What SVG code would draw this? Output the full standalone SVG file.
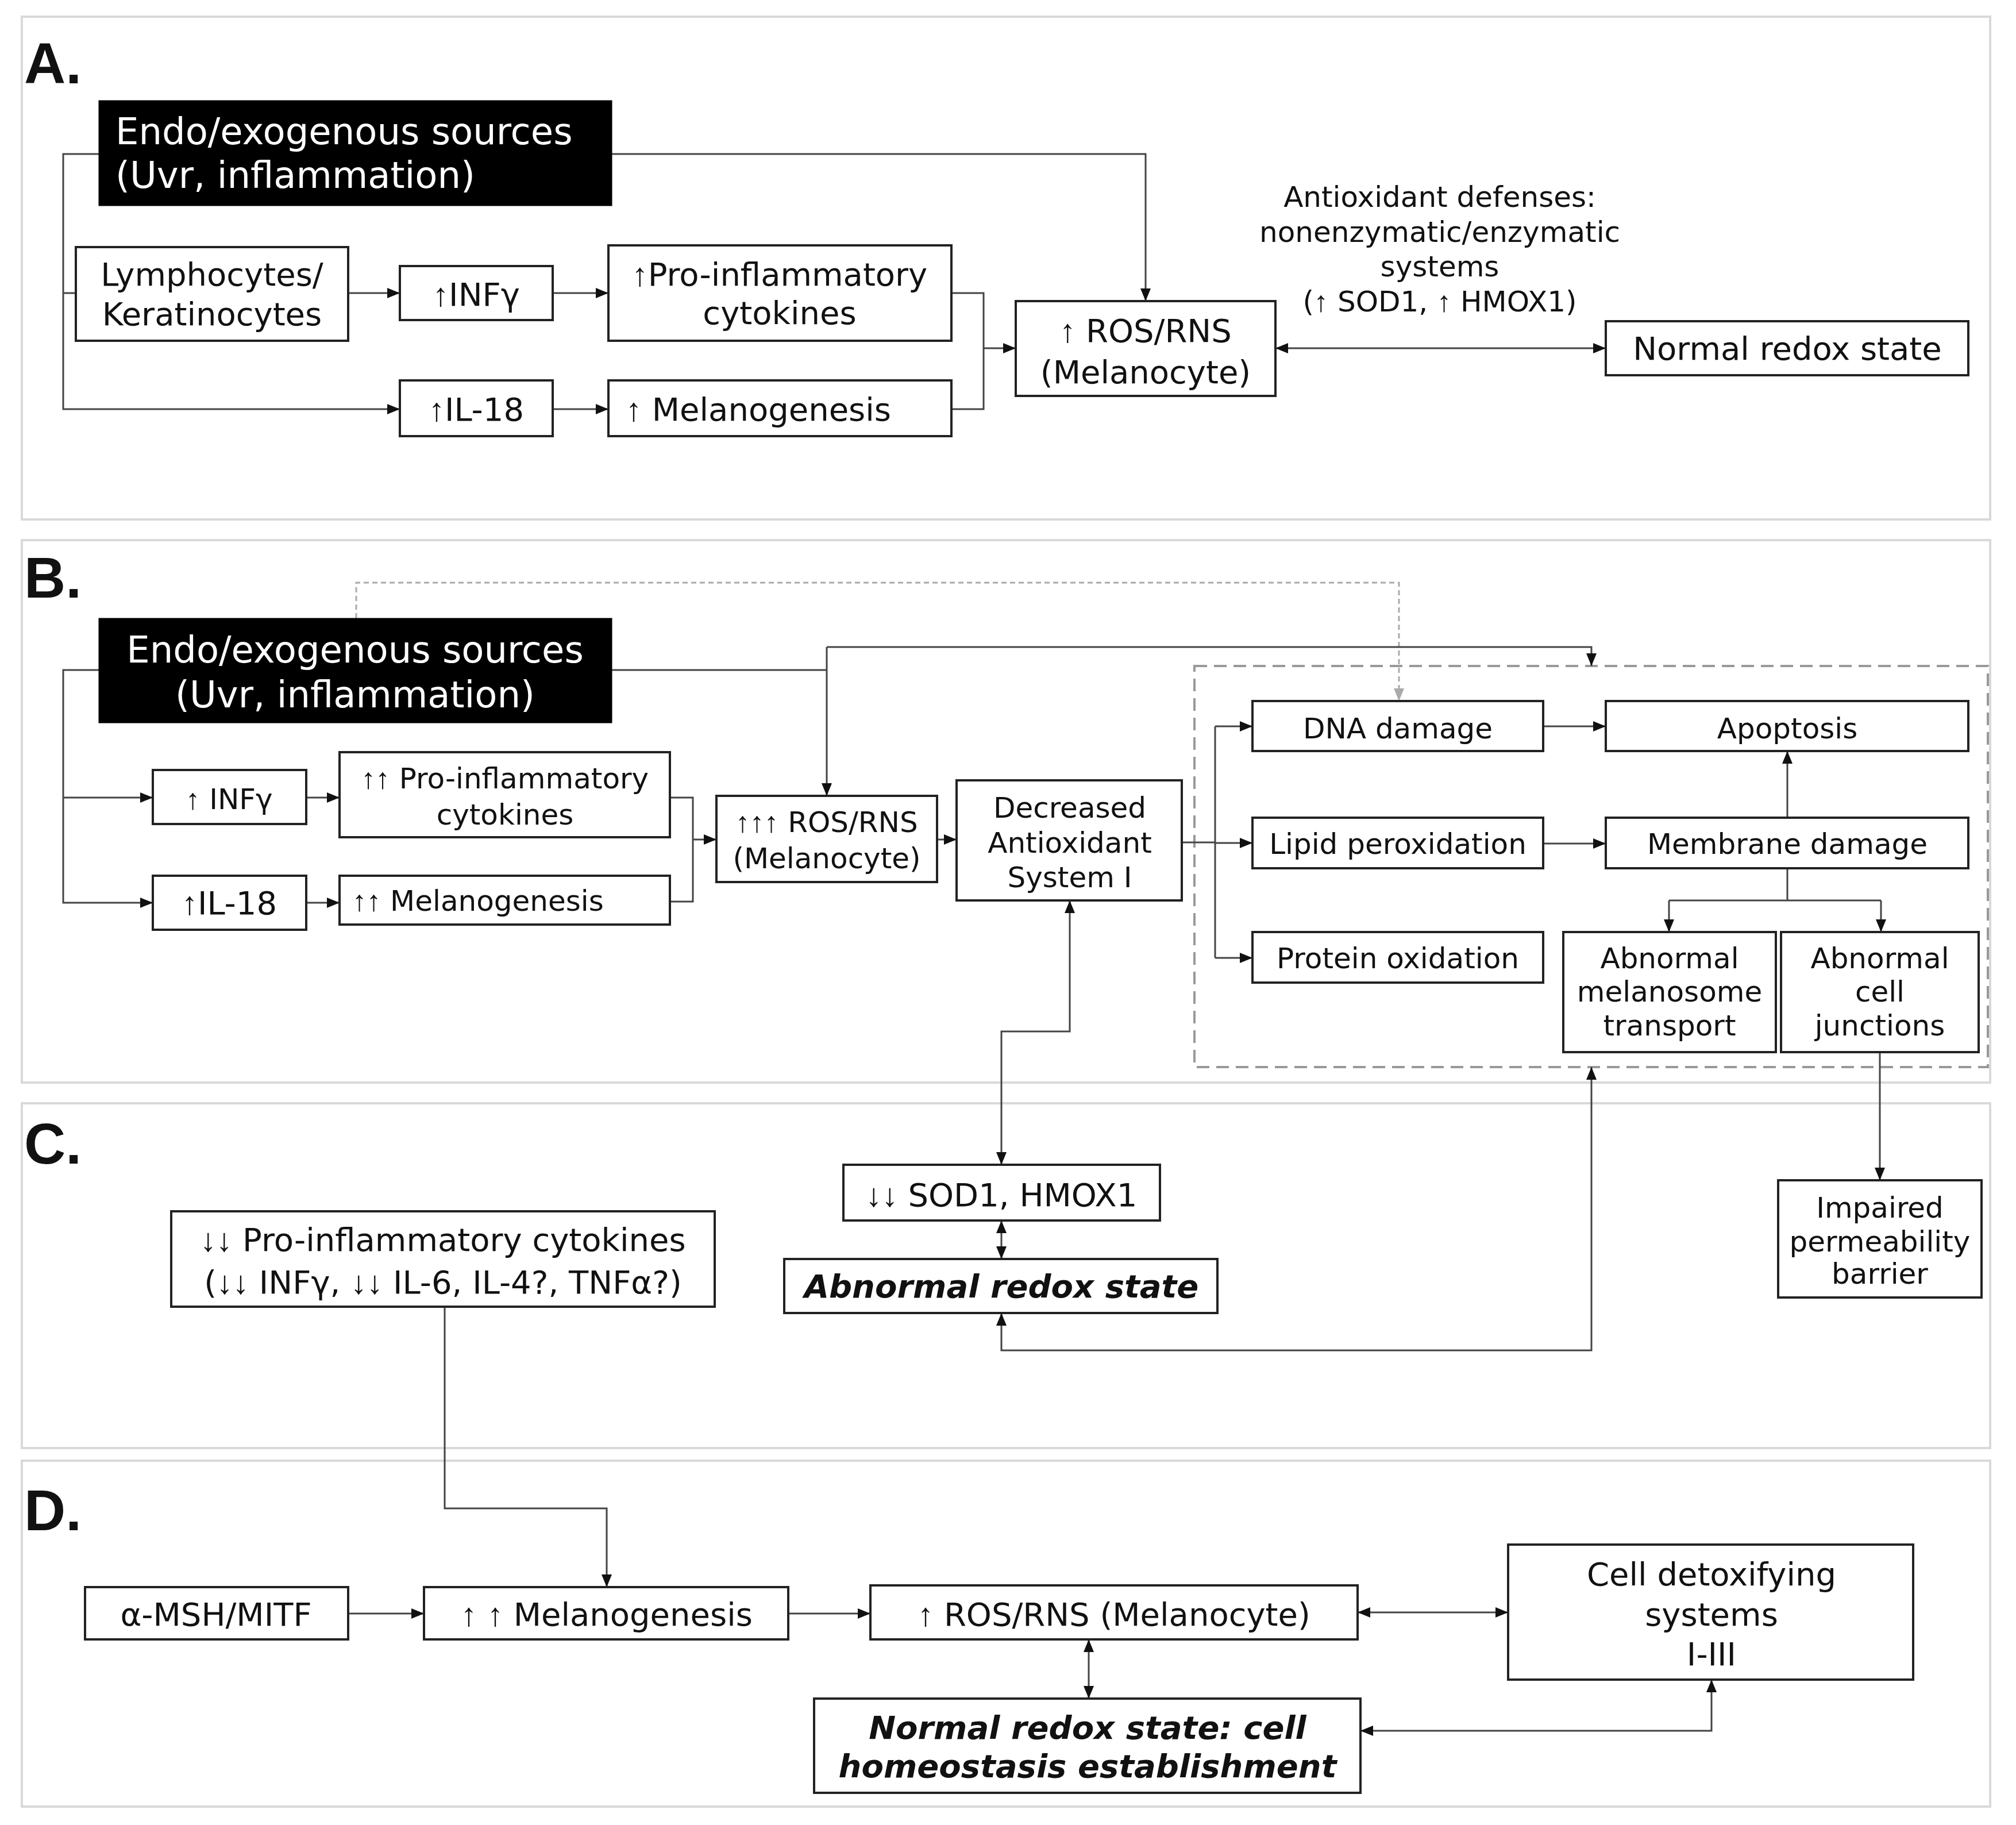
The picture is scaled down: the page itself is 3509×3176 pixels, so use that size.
<svg xmlns="http://www.w3.org/2000/svg" width="3509" height="3176" viewBox="0 0 3509 3176">
<style>
text{font-family:"DejaVu Sans","Noto Sans",sans-serif;fill:#111;text-anchor:middle}
.lbl{font-family:"Liberation Sans",Arial,sans-serif;font-weight:bold;font-size:100px;text-anchor:start}
.panel{fill:none;stroke:#d9d9d9;stroke-width:4}
.box{fill:#fff;stroke:#222;stroke-width:4}
.blk{fill:#000;stroke:#000}
.wt{fill:#fff}
.c{fill:none;stroke:#444;stroke-width:3}
.dash{fill:none;stroke:#aaa;stroke-width:3;stroke-dasharray:9 6}
.dbox{fill:none;stroke:#999;stroke-width:4;stroke-dasharray:22 12}
.f64{font-size:64px}.f56{font-size:56px}.f50{font-size:50px}
.bi{font-weight:bold;font-style:italic}
.a{font-family:"Liberation Sans",Arial,sans-serif}
</style>
<defs>
<marker id="ar" markerUnits="userSpaceOnUse" markerWidth="24" markerHeight="18" refX="22" refY="9" orient="auto-start-reverse"><path d="M0,0 L22,9 L0,18 z" fill="#111"/></marker>
<marker id="arg" markerUnits="userSpaceOnUse" markerWidth="24" markerHeight="18" refX="22" refY="9" orient="auto"><path d="M0,0 L22,9 L0,18 z" fill="#aaa"/></marker>
</defs>
<rect width="3509" height="3176" fill="#fff"/>
<g id="panels">
<rect class="panel" x="38" y="29" width="3426" height="875"/>
<rect class="panel" x="38" y="940" width="3426" height="944"/>
<rect class="panel" x="38" y="1920" width="3426" height="600"/>
<rect class="panel" x="38" y="2542" width="3426" height="602"/>
<text class="lbl" x="42" y="145">A.</text>
<text class="lbl" x="42" y="1040">B.</text>
<text class="lbl" x="42" y="2025">C.</text>
<text class="lbl" x="42" y="2663">D.</text>
<rect class="dbox" x="2079" y="1159" width="1381" height="698"/>
</g>
<g id="connectors">
<path class="c" d="M172,268 H110 V712 H696" marker-end="url(#ar)"/>
<path class="c" d="M110,510 H132"/>
<path class="c" d="M1065,268 H1994 V524" marker-end="url(#ar)"/>
<path class="c" d="M606,510 H696" marker-end="url(#ar)"/>
<path class="c" d="M962,510 H1059" marker-end="url(#ar)"/>
<path class="c" d="M962,712 H1059" marker-end="url(#ar)"/>
<path class="c" d="M1656,510 H1712 V712 H1656"/>
<path class="c" d="M1712,606 H1768" marker-end="url(#ar)"/>
<path class="c" d="M2220,606 H2795" marker-start="url(#ar)" marker-end="url(#ar)"/>
<path class="dash" d="M620,1076 V1014 H2435 V1220" marker-end="url(#arg)"/>
<path class="c" d="M1065,1166 H1439"/>
<path class="c" d="M1439,1126 V1385" marker-end="url(#ar)"/>
<path class="c" d="M1439,1126 H2770 V1159" marker-end="url(#ar)"/>
<path class="c" d="M172,1166 H110 V1571 H266" marker-end="url(#ar)"/>
<path class="c" d="M110,1388 H266" marker-end="url(#ar)"/>
<path class="c" d="M533,1388 H591" marker-end="url(#ar)"/>
<path class="c" d="M533,1571 H591" marker-end="url(#ar)"/>
<path class="c" d="M1166,1388 H1206 V1569 H1166"/>
<path class="c" d="M1206,1461 H1247" marker-end="url(#ar)"/>
<path class="c" d="M1631,1461 H1665" marker-end="url(#ar)"/>
<path class="c" d="M2057,1466 H2115"/>
<path class="c" d="M2115,1264 V1667"/>
<path class="c" d="M2115,1264 H2180" marker-end="url(#ar)"/>
<path class="c" d="M2115,1467 H2180" marker-end="url(#ar)"/>
<path class="c" d="M2115,1667 H2180" marker-end="url(#ar)"/>
<path class="c" d="M2686,1264 H2795" marker-end="url(#ar)"/>
<path class="c" d="M2686,1468 H2795" marker-end="url(#ar)"/>
<path class="c" d="M3111,1423 V1307" marker-end="url(#ar)"/>
<path class="c" d="M3111,1511 V1567"/>
<path class="c" d="M2905,1567 H3274"/>
<path class="c" d="M2905,1567 V1622" marker-end="url(#ar)"/>
<path class="c" d="M3274,1567 V1622" marker-end="url(#ar)"/>
<path class="c" d="M3272,1831 V2054" marker-end="url(#ar)"/>
<path class="c" d="M1862,1567 V1795 H1743 V2027" marker-start="url(#ar)" marker-end="url(#ar)"/>
<path class="c" d="M1743,2124 V2191" marker-start="url(#ar)" marker-end="url(#ar)"/>
<path class="c" d="M1743,2285 V2350 H2770 V1857" marker-start="url(#ar)" marker-end="url(#ar)"/>
<path class="c" d="M774,2274 V2625 H1056 V2762" marker-end="url(#ar)"/>
<path class="c" d="M606,2808 H738" marker-end="url(#ar)"/>
<path class="c" d="M1372,2808 H1515" marker-end="url(#ar)"/>
<path class="c" d="M2363,2806 H2625" marker-start="url(#ar)" marker-end="url(#ar)"/>
<path class="c" d="M1895,2853 V2956" marker-start="url(#ar)" marker-end="url(#ar)"/>
<path class="c" d="M2368,3012 H2979 V2923" marker-start="url(#ar)" marker-end="url(#ar)"/>
</g>
<g id="a-sources"><rect class="blk" x="172" y="175" width="893" height="183"/><text class="f64 wt" x="201" y="251" style="text-anchor:start">Endo/exogenous sources</text><text class="f64 wt" x="201" y="327" style="text-anchor:start">(Uvr, inflammation)</text></g>
<g id="a-lymph"><rect class="box" x="132" y="430" width="474" height="163"/><text class="f56" x="369" y="497">Lymphocytes/</text><text class="f56" x="369" y="566">Keratinocytes</text></g>
<g id="a-infg"><rect class="box" x="696" y="463" width="266" height="94"/><text class="f56" x="829" y="532"><tspan class="a">↑</tspan>INFγ</text></g>
<g id="a-proinf"><rect class="box" x="1059" y="427" width="597" height="166"/><text class="f56" x="1357" y="497"><tspan class="a">↑</tspan>Pro-inflammatory</text><text class="f56" x="1357" y="564">cytokines</text></g>
<g id="a-il18"><rect class="box" x="696" y="662" width="266" height="97"/><text class="f56" x="829" y="732"><tspan class="a">↑</tspan>IL-18</text></g>
<g id="a-melano"><rect class="box" x="1059" y="662" width="597" height="97"/><text class="f56" x="1320" y="732"><tspan class="a">↑</tspan> Melanogenesis</text></g>
<g id="a-ros"><rect class="box" x="1768" y="524" width="452" height="165"/><text class="f56" x="1994" y="595"><tspan class="a">↑</tspan> ROS/RNS</text><text class="f56" x="1994" y="667">(Melanocyte)</text></g>
<g id="a-normal"><rect class="box" x="2795" y="559" width="631" height="94"/><text class="f56" x="3111" y="626">Normal redox state</text></g>
<g id="a-antiox"><text class="f50" x="2506" y="360">Antioxidant defenses:</text><text class="f50" x="2506" y="421">nonenzymatic/enzymatic</text><text class="f50" x="2506" y="481">systems</text><text class="f50" x="2506" y="542">(<tspan class="a">↑</tspan> SOD1, <tspan class="a">↑</tspan> HMOX1)</text></g>
<g id="b-sources"><rect class="blk" x="172" y="1076" width="893" height="182"/><text class="f64 wt" x="618" y="1153">Endo/exogenous sources</text><text class="f64 wt" x="618" y="1231">(Uvr, inflammation)</text></g>
<g id="b-infg"><rect class="box" x="266" y="1340" width="267" height="94"/><text class="f50" x="399" y="1408"><tspan class="a">↑</tspan> INFγ</text></g>
<g id="b-proinf"><rect class="box" x="591" y="1309" width="575" height="148"/><text class="f50" x="879" y="1372"><tspan class="a">↑↑</tspan> Pro-inflammatory</text><text class="f50" x="879" y="1435">cytokines</text></g>
<g id="b-il18"><rect class="box" x="266" y="1524" width="267" height="94"/><text class="f56" x="399" y="1591"><tspan class="a">↑</tspan>IL-18</text></g>
<g id="b-melano"><rect class="box" x="591" y="1524" width="575" height="85"/><text class="f50" x="832" y="1585"><tspan class="a">↑↑</tspan> Melanogenesis</text></g>
<g id="b-ros"><rect class="box" x="1247" y="1385" width="384" height="150"/><text class="f50" x="1439" y="1448"><tspan class="a">↑↑↑</tspan> ROS/RNS</text><text class="f50" x="1439" y="1511">(Melanocyte)</text></g>
<g id="b-decr"><rect class="box" x="1665" y="1358" width="392" height="209"/><text class="f50" x="1862" y="1423">Decreased</text><text class="f50" x="1862" y="1484">Antioxidant</text><text class="f50" x="1862" y="1544">System I</text></g>
<g id="b-dna"><rect class="box" x="2180" y="1220" width="506" height="87"/><text class="f50" x="2433" y="1285">DNA damage</text></g>
<g id="b-apop"><rect class="box" x="2795" y="1220" width="631" height="87"/><text class="f50" x="3111" y="1285">Apoptosis</text></g>
<g id="b-lipid"><rect class="box" x="2180" y="1423" width="506" height="88"/><text class="f50" x="2433" y="1486">Lipid peroxidation</text></g>
<g id="b-membrane"><rect class="box" x="2795" y="1423" width="631" height="88"/><text class="f50" x="3111" y="1486">Membrane damage</text></g>
<g id="b-protein"><rect class="box" x="2180" y="1622" width="506" height="88"/><text class="f50" x="2433" y="1685">Protein oxidation</text></g>
<g id="b-melanosome"><rect class="box" x="2721" y="1622" width="370" height="209"/><text class="f50" x="2906" y="1685">Abnormal</text><text class="f50" x="2906" y="1743">melanosome</text><text class="f50" x="2906" y="1802">transport</text></g>
<g id="b-junctions"><rect class="box" x="3100" y="1622" width="344" height="209"/><text class="f50" x="3272" y="1685">Abnormal</text><text class="f50" x="3272" y="1743">cell</text><text class="f50" x="3272" y="1802">junctions</text></g>
<g id="c-sod"><rect class="box" x="1468" y="2027" width="551" height="97"/><text class="f56" x="1743" y="2099"><tspan class="a">↓↓</tspan> SOD1, HMOX1</text></g>
<g id="c-abnormal"><rect class="box" x="1365" y="2191" width="754" height="94"/><text class="f56 bi" x="1743" y="2258">Abnormal redox state</text></g>
<g id="c-proinf"><rect class="box" x="298" y="2108" width="946" height="166"/><text class="f56" x="771" y="2177"><tspan class="a">↓↓</tspan> Pro-inflammatory cytokines</text><text class="f56" x="771" y="2251">(<tspan class="a">↓↓</tspan> INFγ, <tspan class="a">↓↓</tspan> IL-6, IL-4?, TNFα?)</text></g>
<g id="c-impaired"><rect class="box" x="3095" y="2054" width="354" height="204"/><text class="f50" x="3272" y="2119">Impaired</text><text class="f50" x="3272" y="2178">permeability</text><text class="f50" x="3272" y="2234">barrier</text></g>
<g id="d-msh"><rect class="box" x="148" y="2762" width="458" height="91"/><text class="f56" x="376" y="2829">α-MSH/MITF</text></g>
<g id="d-melano"><rect class="box" x="738" y="2762" width="634" height="91"/><text class="f56" x="1056" y="2829"><tspan class="a">↑</tspan> <tspan class="a">↑</tspan> Melanogenesis</text></g>
<g id="d-ros"><rect class="box" x="1515" y="2759" width="848" height="94"/><text class="f56" x="1939" y="2829"><tspan class="a">↑</tspan> ROS/RNS (Melanocyte)</text></g>
<g id="d-detox"><rect class="box" x="2625" y="2688" width="705" height="235"/><text class="f56" x="2979" y="2759">Cell detoxifying</text><text class="f56" x="2979" y="2829">systems</text><text class="f56" x="2979" y="2898">I-III</text></g>
<g id="d-normal"><rect class="box" x="1417" y="2956" width="951" height="164"/><text class="f56 bi" x="1893" y="3026">Normal redox state: cell</text><text class="f56 bi" x="1893" y="3093">homeostasis establishment</text></g>
</svg>
